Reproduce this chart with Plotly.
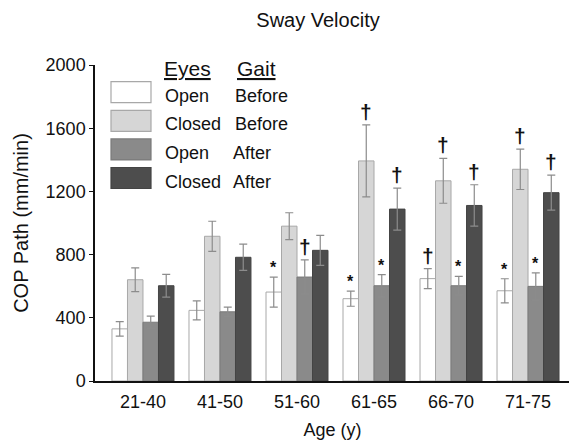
import plotly.graph_objects as go

groups = ["21-40", "41-50", "51-60", "61-65", "66-70", "71-75"]

open_before = [330, 447, 563, 521, 648, 571]
open_before_err = [46, 60, 95, 48, 63, 76]
closed_before = [641, 916, 980, 1393, 1267, 1340]
closed_before_err = [75, 95, 85, 228, 142, 128]
open_after = [372, 438, 658, 603, 603, 599]
open_after_err = [38, 30, 108, 70, 59, 85]
closed_after = [603, 783, 827, 1088, 1111, 1192]
closed_after_err = [72, 83, 95, 133, 131, 111]

open_before_marks = ["", "", "*", "*", "†", "*"]
closed_before_marks = ["", "", "", "†", "†", "†"]
open_after_marks = ["", "", "†", "*", "*", "*"]
closed_after_marks = ["", "", "", "†", "†", "†"]

eyes_labels = ["Open", "Closed", "Open", "Closed"]
gait_labels = ["Before", "Before", "After", "After"]

series = [
    (open_before, open_before_err, open_before_marks, "#ffffff", "#a8a8a8"),
    (closed_before, closed_before_err, closed_before_marks, "#d6d6d6", "#a8a8a8"),
    (open_after, open_after_err, open_after_marks, "#8a8a8a", "#7a7a7a"),
    (closed_after, closed_after_err, closed_after_marks, "#4d4d4d", "#444444"),
]

FONT = "Liberation Sans, Arial, sans-serif"
# page has an 8px body margin; figure is sized to fit inside the window
PAGE_OFF = 8
W, H = 577 - PAGE_OFF, 441 - PAGE_OFF
# plot area in page pixels
L, R, T, B = 95, 570, 65, 381

fig = go.Figure()
bargap = 0.195
bw = (1 - bargap) / 4
offsets = [-1.5 * bw, -0.5 * bw, 0.5 * bw, 1.5 * bw]

annotations = []
for k, (vals, errs, marks, fill, line) in enumerate(series):
    fig.add_trace(go.Bar(
        x=groups, y=vals,
        name=f"{eyes_labels[k]} {gait_labels[k]}",
        marker=dict(color=fill, line=dict(color=line, width=1)),
        error_y=dict(type="data", array=errs, visible=True,
                     color="#8c8c8c", thickness=1.2, width=4),
        showlegend=False,
    ))
    for i, m in enumerate(marks):
        if not m:
            continue
        is_dag = m == "†"
        annotations.append(dict(
            x=i + offsets[k], y=vals[i] + errs[i], xref="x", yref="y",
            text=f"<b>{m}</b>", showarrow=False, yanchor="bottom",
            yshift=0 if is_dag else -1,
            font=dict(family=FONT, size=21 if is_dag else 16, color="#111111"),
        ))

def px(x):
    return (x - L) / (R - L)
def py(y):
    return (B - y) / (B - T)

shapes = []
fills = [s[3] for s in series]
lines = [s[4] for s in series]
for k in range(4):
    top = 81.7 + k * 28.6
    shapes.append(dict(type="rect", xref="paper", yref="paper",
                       x0=px(111), x1=px(151), y0=py(top + 21), y1=py(top),
                       fillcolor=fills[k], line=dict(color=lines[k], width=1.2)))
    annotations.append(dict(x=px(163), y=py(top + 14), xref="paper", yref="paper",
                            text=eyes_labels[k], showarrow=False, xanchor="left",
                            yanchor="middle",
                            font=dict(family=FONT, size=18, color="#111111")))
    annotations.append(dict(x=px(231 if k >= 2 else 233), y=py(top + 14),
                            xref="paper", yref="paper",
                            text=gait_labels[k], showarrow=False, xanchor="left",
                            yanchor="middle",
                            font=dict(family=FONT, size=18, color="#111111")))
annotations.append(dict(x=px(162), y=py(69), xref="paper", yref="paper",
                        text="<u>Eyes</u>", showarrow=False, xanchor="left",
                        yanchor="middle",
                        font=dict(family=FONT, size=21, color="#111111")))
annotations.append(dict(x=px(235), y=py(69), xref="paper", yref="paper",
                        text="<u>Gait</u>", showarrow=False, xanchor="left",
                        yanchor="middle",
                        font=dict(family=FONT, size=21, color="#111111")))

fig.update_layout(
    width=W, height=H,
    margin=dict(l=L - PAGE_OFF, r=577 - R, t=T - PAGE_OFF, b=441 - B, autoexpand=False),
    paper_bgcolor="white", plot_bgcolor="white",
    barmode="group", bargap=bargap, bargroupgap=0,
    title=dict(text="Sway Velocity", x=(318 - PAGE_OFF) / W, xanchor="center",
               y=1 - (20 - PAGE_OFF) / H, yanchor="middle",
               font=dict(family=FONT, size=20, color="#111111")),
    font=dict(family=FONT, color="#111111"),
    xaxis=dict(range=[-0.623, 5.545], showline=True, linecolor="#111111", linewidth=1.5,
               ticks="", tickfont=dict(size=18), showgrid=False, ticklabelstandoff=4,
               title=dict(text="Age (y)", font=dict(size=18), standoff=12)),
    yaxis=dict(range=[0, 2000], tickvals=[0, 400, 800, 1200, 1600, 2000],
               showline=True, linecolor="#111111", linewidth=1.5, ticks="outside",
               ticklen=4, tickcolor="#111111", showgrid=False, zeroline=False,
               tickfont=dict(size=18),
               title=dict(text="COP Path (mm/min)", font=dict(size=20), standoff=12)),
    shapes=shapes, annotations=annotations,
)

fig.write_html("out.html")
